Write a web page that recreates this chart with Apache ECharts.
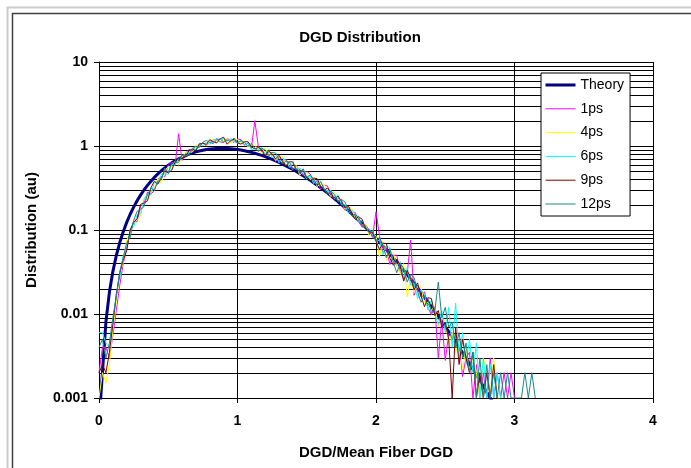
<!DOCTYPE html>
<html><head><meta charset="utf-8">
<script src="https://cdn.jsdelivr.net/npm/echarts@6/dist/echarts.min.js"></script>
<style>html,body{margin:0;padding:0;background:#fff}#c{width:691px;height:468px}</style>
</head><body><div id="c"></div>
<script>
const dgd = [0,0.025,0.05,0.075,0.1,0.125,0.15,0.175,0.2,0.225,
0.25,0.275,0.3,0.325,0.35,0.375,0.4,0.425,0.45,0.475,
0.5,0.525,0.55,0.575,0.6,0.625,0.65,0.675,0.7,0.725,
0.75,0.775,0.8,0.825,0.85,0.875,0.9,0.925,0.95,0.975,
1,1.025,1.05,1.075,1.1,1.125,1.15,1.175,1.2,1.225,
1.25,1.275,1.3,1.325,1.35,1.375,1.4,1.425,1.45,1.475,
1.5,1.525,1.55,1.575,1.6,1.625,1.65,1.675,1.7,1.725,
1.75,1.775,1.8,1.825,1.85,1.875,1.9,1.925,1.95,1.975,
2,2.025,2.05,2.075,2.1,2.125,2.15,2.175,2.2,2.225,
2.25,2.275,2.3,2.325,2.35,2.375,2.4,2.425,2.45,2.475,
2.5,2.525,2.55,2.575,2.6,2.625,2.65,2.675,2.7,2.725,
2.75,2.775,2.8,2.825,2.85,2.875,2.9,2.925,2.95,2.975,
3,3.025,3.05,3.075,3.1,3.125,3.15];

const theory = [0.0005,
0.00203,0.00808,0.0181,0.0320,0.0497,0.0709,0.0955,0.1233,0.1539,0.1871,
0.2227,0.2602,0.2994,0.3398,0.3813,0.4232,0.4653,0.5072,0.5490,0.5897,
0.6293,0.6672,0.7036,0.7380,0.7700,0.7995,0.8271,0.8508,0.8727,0.8904,
0.9065,0.9186,0.9277,0.9334,0.9366,0.9359,0.9333,0.9280,0.9188,0.9078,
0.8939,0.8783,0.8603,0.8404,0.8191,0.7962,0.7718,0.7466,0.7201,0.6930,
0.6652,0.6373,0.6091,0.5804,0.5521,0.5243,0.4964,0.4690,0.4420,0.4158,
0.3904,0.3655,0.3418,0.3189,0.2968,0.2758,0.2555,0.2365,0.2183,0.2012,
0.1850,0.1698,0.1555,0.1422,0.1297,0.1181,0.1073,0.0974,0.0882,0.0797,
0.0718,0.0647,0.0581,0.0521,0.0466,0.0417,0.0372,0.0331,0.0294,0.0261,
0.0231,0.0204,0.0180,0.0158,0.0139,0.0122,0.0107,0.00934,0.00815,0.00710,
0.00616,0.00535,0.00463,0.00401,0.00346,0.00298,0.00256,0.00220,0.00189,0.00161,
0.00138,0.00117,0.00100,0.00085];

const ps1 = [0.002,
0.004,0.004,0.003,0.0055,0.011,0.022,0.040,0.0594,0.0930,0.128,
0.125,0.191,0.206,0.283,0.270,0.292,0.407,0.429,0.431,0.595,
0.645,0.598,1.40,0.673,0.816,0.915,0.871,0.900,1.020,1.100,
1.001,1.156,1.113,1.234,1.118,1.100,1.226,1.174,1.100,1.222,
1.186,1.033,1.075,0.935,2.00,0.998,0.845,0.780,0.834,0.832,
0.656,0.741,0.652,0.699,0.571,0.522,0.580,0.517,0.443,0.497,
0.463,0.367,0.382,0.307,0.340,0.334,0.260,0.232,0.240,0.228,
0.172,0.187,0.157,0.162,0.126,0.108,0.116,0.0986,0.0818,0.165,
0.0853,0.0539,0.0606,0.0388,0.0503,0.050,0.0321,0.0262,0.0296,0.076,
0.0167,0.0216,0.0160,0.0184,0.0119,0.0098,0.0123,0.0030,0.0085,0.0028,
0.0058,0.0060,0.0042,0.0050,0.0018,0.0030,0.0035,0.001,0.0025,0.001,
0.0020,0.001,0.0030,0.001,0.0020,0.001,0.0020,0.001,0.0020,0.001];

const ps4 = [0.001,
0.002,0.0015,0.0025,0.0065,0.014,0.030,0.041,0.0764,0.0876,0.126,
0.130,0.150,0.244,0.230,0.296,0.312,0.412,0.360,0.502,0.571,
0.533,0.663,0.590,0.737,0.835,0.827,0.850,1.029,0.988,1.092,
1.018,1.147,1.222,1.104,1.174,1.137,1.236,1.072,1.192,1.195,
1.070,1.146,0.974,1.024,1.029,0.902,0.813,0.953,0.794,0.823,
0.673,0.732,0.749,0.592,0.614,0.549,0.586,0.450,0.500,0.481,
0.397,0.428,0.329,0.352,0.352,0.287,0.250,0.283,0.228,0.226,
0.177,0.184,0.181,0.137,0.136,0.114,0.117,0.0857,0.0924,0.0854,
0.048,0.0745,0.0437,0.0525,0.0536,0.037,0.0295,0.0398,0.016,0.0282,
0.0178,0.0211,0.0212,0.0130,0.0139,0.0110,0.0126,0.0070,0.0090,0.0082,
0.0045,0.0060,0.0035,0.0048,0.0022,0.0040,0.0020,0.0030,0.0020,0.001,
0.0030,0.0020,0.001,0.0030,0.001,0.001];

const ps6 = [0.006,
0.006,0.0045,0.0040,0.0080,0.018,0.027,0.050,0.0604,0.104,0.109,
0.152,0.156,0.232,0.268,0.261,0.372,0.356,0.461,0.467,0.461,
0.602,0.588,0.710,0.777,0.760,0.833,0.950,0.907,1.084,1.008,
1.105,1.039,1.186,1.197,1.100,1.250,1.142,1.221,1.146,1.067,
1.142,1.016,1.100,0.900,0.936,0.909,0.963,0.790,0.912,0.729,
0.763,0.631,0.717,0.669,0.556,0.632,0.522,0.548,0.471,0.406,
0.437,0.357,0.396,0.381,0.306,0.291,0.296,0.235,0.262,0.200,
0.201,0.159,0.173,0.155,0.123,0.132,0.104,0.104,0.0871,0.0720,
0.0764,0.0507,0.0649,0.0613,0.0402,0.038,0.0419,0.0270,0.0353,0.0220,
0.0233,0.0152,0.0195,0.0168,0.0112,0.0146,0.0099,0.0075,0.0110,0.0060,
0.0120,0.0040,0.0135,0.0030,0.0060,0.0025,0.0050,0.0020,0.0045,0.001,
0.0030,0.001,0.0025,0.001,0.0020,0.001];

const ps9 = [0.002,
0.0025,0.002,0.0035,0.0075,0.017,0.031,0.044,0.0574,0.0998,0.123,
0.136,0.202,0.209,0.222,0.318,0.382,0.351,0.417,0.510,0.477,
0.516,0.648,0.726,0.708,0.747,0.881,0.914,0.884,1.060,1.075,
1.044,1.192,1.122,1.086,1.221,1.269,1.05,1.156,1.201,1.085,
1.053,1.120,1.126,0.984,0.921,0.961,0.909,0.759,0.882,0.804,
0.700,0.775,0.660,0.577,0.651,0.646,0.515,0.505,0.506,0.417,
0.387,0.414,0.409,0.332,0.298,0.316,0.280,0.226,0.254,0.221,
0.184,0.195,0.159,0.134,0.144,0.134,0.103,0.0962,0.0935,0.0740,
0.0587,0.0697,0.0691,0.0463,0.0380,0.045,0.0375,0.0246,0.0331,0.0270,
0.0194,0.0235,0.0164,0.0122,0.0156,0.0153,0.0096,0.0110,0.0070,0.0080,
0.0050,0.001,0.0070,0.0025,0.0050,0.0030,0.0020,0.0035,0.001,0.0020,
0.001,0.0020,0.001,0.0025,0.001];

const ps12 = [0.004,
0.005,0.003,0.0045,0.0090,0.016,0.032,0.047,0.0704,0.0822,0.130,
0.167,0.175,0.190,0.264,0.313,0.302,0.379,0.398,0.545,0.485,
0.628,0.638,0.639,0.771,0.766,0.786,0.936,0.983,0.956,1.109,
1.166,1.102,1.067,1.188,1.212,1.119,1.179,1.128,1.247,1.094,
1.169,1.102,0.991,1.073,0.944,0.857,0.941,0.892,0.755,0.841,
0.825,0.690,0.611,0.661,0.643,0.535,0.547,0.486,0.534,0.422,
0.452,0.404,0.338,0.377,0.309,0.266,0.289,0.265,0.217,0.231,
0.217,0.174,0.147,0.153,0.142,0.111,0.109,0.0927,0.0988,0.0749,
0.0818,0.0666,0.0465,0.060,0.0413,0.031,0.0402,0.0350,0.0240,0.0295,
0.0272,0.0186,0.0138,0.0164,0.0153,0.0104,0.0110,0.024,0.0090,0.0120,
0.0070,0.0080,0.0040,0.0060,0.0030,0.0045,0.0020,0.0035,0.001,0.0030,
0.001,0.0025,0.001,0.0020,0.001,0.0020,0.001,0.0020,0.001,0.001,
0.001,0.001,0.0020,0.001,0.0020,0.001];

const seriesNames = ['Theory','1ps','4ps','6ps','9ps','12ps'];
const yTickLabels = ['0.001','0.01','0.1','1','10'];
const xTickLabels = ['0','1','2','3','4'];
const yGridLevels = [0.002,0.003,0.004,0.005,0.006,0.007,0.008,0.009,
0.01,0.02,0.03,0.04,0.05,0.06,0.07,0.08,0.09,
0.1,0.2,0.3,0.4,0.5,0.6,0.7,0.8,0.9,
1,2,3,4,5,6,7,8,9,10];

const FONT = '"Liberation Sans", Arial, sans-serif';
const colors = ['#000080','#FF00FF','#FFFF00','#00FFFF','#800000','#1a8a8a'];
const widths = [3,1,1,1,1,1];
const allData = [theory, ps1, ps4, ps6, ps9, ps12];

function pairs(arr){ return arr.map((v,i)=>[dgd[i], v]); }

const chart = echarts.init(document.getElementById('c'), null, {renderer:'canvas'});

const lineSeries = allData.map((arr,k)=>({
  type:'line', name:seriesNames[k], data:pairs(arr),
  symbol:'none', showSymbol:false, clip:true, z:3+k,
  lineStyle:{color:colors[k], width:widths[k]},
  itemStyle:{color:colors[k]},
  emphasis:{disabled:true}
}));

const option = {
  animation:false,
  backgroundColor:'#fff',
  textStyle:{fontFamily:FONT},
  title:{text:'DGD Distribution', left:355, textAlign:'center', top:25,
    textStyle:{fontSize:15, fontWeight:'bold', color:'#000', fontFamily:FONT}},
  grid:{left:99, right:38, top:62, bottom:70, show:false},
  legend:{orient:'vertical', left:541, top:73, itemWidth:30, itemHeight:14, itemGap:9.8,
    padding:[5,6,5,3], backgroundColor:'#fff', borderColor:'#000', borderWidth:1,
    itemStyle:{opacity:0},
    textStyle:{fontSize:14, color:'#000', fontFamily:FONT},
    data:seriesNames.map((n,k)=>({name:n, lineStyle:{width:widths[k], color:colors[k]}}))},
  xAxis:{type:'value', min:0, max:4, interval:1,
    axisLine:{lineStyle:{color:'#000', width:1}},
    axisTick:{show:true, length:5, lineStyle:{color:'#000'}},
    axisLabel:{margin:16, fontSize:14, fontWeight:'bold', color:'#000', fontFamily:FONT,
      formatter:(v)=>xTickLabels[Math.round(v)]},
    splitLine:{show:true, lineStyle:{color:'#000', width:1}},
    name:'DGD/Mean Fiber DGD', nameLocation:'middle', nameGap:47,
    nameTextStyle:{fontSize:15, fontWeight:'bold', color:'#000', fontFamily:FONT}},
  yAxis:{type:'log', logBase:10, min:0.001, max:10,
    axisLine:{show:true, lineStyle:{color:'#000', width:1}},
    axisTick:{show:true, length:5, lineStyle:{color:'#000'}},
    axisLabel:{margin:11, fontSize:14, fontWeight:'bold', color:'#000', fontFamily:FONT,
      formatter:(v,i)=>yTickLabels[i]},
    splitLine:{show:false},
    name:'Distribution (au)', nameLocation:'middle', nameGap:60, nameRotate:90,
    nameTextStyle:{fontSize:15, fontWeight:'bold', color:'#000', fontFamily:FONT}},
  graphic:[
    {type:'rect', shape:{x:7.5, y:7.5, width:1000, height:1000}, style:{fill:'none', stroke:'#cccccc', lineWidth:2}, silent:true},
    {type:'rect', shape:{x:12.5, y:13.5, width:1000, height:1000}, style:{fill:'none', stroke:'#404040', lineWidth:1.5}, silent:true}
  ],
  series:[{
    type:'custom', silent:true, z:1, clip:false,
    data:yGridLevels.map(v=>[0, v]),
    renderItem:(params, api)=>{
      const p = api.coord([api.value(0), api.value(1)]);
      const cs = params.coordSys;
      const y = Math.round(p[1]) + 0.5;
      return {type:'line', shape:{x1:cs.x, y1:y, x2:cs.x+cs.width, y2:y},
        style:{stroke:'#000', lineWidth:1}};
    }
  }].concat(lineSeries)
};
chart.setOption(option);
</script></body></html>
